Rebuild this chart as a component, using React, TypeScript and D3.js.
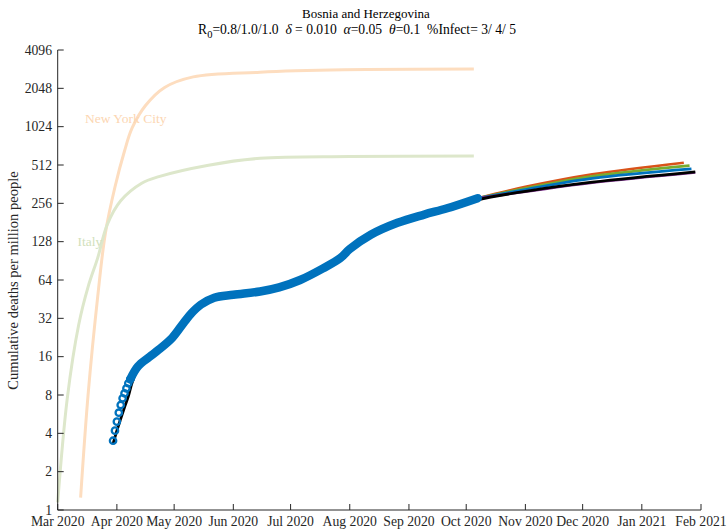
import React from 'react';
import * as d3 from 'd3';

// ---------- data ----------
const xTickDates = ['2020-03-01','2020-04-01','2020-05-01','2020-06-01','2020-07-01','2020-08-01','2020-09-01','2020-10-01','2020-11-01','2020-12-01','2021-01-01','2021-02-01'];
const yTickValues = [1, 2, 4, 8, 16, 32, 64, 128, 256, 512, 1024, 2048, 4096];

const nycDates = ['2020-03-13','2020-03-17','2020-03-22','2020-03-26','2020-03-31','2020-04-05','2020-04-09','2020-04-16','2020-04-26','2020-05-11','2020-06-15','2020-07-29','2020-10-05'];
const nycValues = [1.25, 8.3, 48, 150, 344, 660, 1000, 1500, 2080, 2520, 2740, 2860, 2900];

const italyDates = ['2020-03-01','2020-03-06','2020-03-12','2020-03-17','2020-03-22','2020-03-27','2020-04-03','2020-04-14','2020-04-23','2020-05-19','2020-06-15','2020-08-01','2020-10-05'];
const italyValues = [1.15, 7.5, 28.5, 57, 96, 175, 268, 368, 415, 510, 578, 597, 603];

// early daily observations (distinct markers)
const bosniaEarlyDates = ['2020-03-30','2020-03-31','2020-04-01','2020-04-02','2020-04-03','2020-04-04','2020-04-05','2020-04-06','2020-04-07','2020-04-08'];
const bosniaEarlyValues = [3.5, 4.2, 4.94, 5.81, 6.68, 7.54, 8.25, 9.03, 9.89, 10.63];

// later observations (markers overlap into a band)
const bosniaDates = ['2020-04-08','2020-04-12','2020-04-18','2020-04-23','2020-04-30','2020-05-06','2020-05-10','2020-05-15','2020-05-22','2020-06-01','2020-06-15','2020-06-25','2020-07-06','2020-07-18','2020-07-27','2020-08-01','2020-08-12','2020-08-26','2020-09-09','2020-09-21','2020-10-07'];
const bosniaValues = [10.63, 13.4, 15.9, 18.2, 22.5, 29.5, 35, 41, 46.5, 49, 52, 56, 64, 79, 95, 112, 145, 180, 209, 234, 281];

// model fit (early part, visible beside the first markers)
const fitEarlyDates = ['2020-03-30','2020-04-01','2020-04-03','2020-04-05','2020-04-07','2020-04-09','2020-04-12'];
const fitEarlyValues = [3.3, 4.2, 5.2, 6.4, 7.8, 10.0, 12.8];

// projections
const projOrangeDates = ['2020-10-07','2020-11-01','2020-12-06','2021-01-23'];
const projOrangeValues = [281, 345, 433, 534];
const projGreenDates = ['2020-10-07','2020-11-01','2020-12-06','2021-01-26'];
const projGreenValues = [281, 336, 417, 506];
const projBlueDates = ['2020-10-07','2020-11-01','2020-12-06','2021-01-27'];
const projBlueValues = [281, 329, 402, 477];
const projPurpleDates = ['2020-10-07','2020-11-01','2020-12-06','2021-01-29'];
const projPurpleValues = [281, 316, 371, 447];
const projBlackDates = ['2020-10-07','2020-11-01','2020-12-06','2021-01-29'];
const projBlackValues = [281, 318, 375, 452];

// ---------- helpers ----------
const parse = d3.utcParse('%Y-%m-%d');
const zip = (ds: string[], vs: number[]) => ds.map((d, i) => ({ date: parse(d) as Date, value: vs[i] }));

const FONT = '"Liberation Serif", "Times New Roman", serif';

export default function App() {
  const x = d3.scaleUtc().domain([parse('2020-03-01') as Date, parse('2021-02-01') as Date]).range([57.7, 701]);
  const y = d3.scaleLog().base(2).domain([1, 4096]).range([510, 50]);

  const line = d3.line<{ date: Date; value: number }>()
    .x(d => x(d.date))
    .y(d => y(d.value))
    .curve(d3.curveCatmullRom.alpha(0.5));

  const nyc = zip(nycDates, nycValues);
  const italy = zip(italyDates, italyValues);
  const early = zip(bosniaEarlyDates, bosniaEarlyValues);
  const band = zip(bosniaDates, bosniaValues);
  const fitEarly = zip(fitEarlyDates, fitEarlyValues);
  const lastFit = fitEarly[fitEarly.length - 1].date.getTime();
  const blackProj = zip(projBlackDates, projBlackValues);
  const fit = [
    ...fitEarly,
    ...band.filter(p => p.date.getTime() > lastFit).map(p => ({ date: p.date, value: p.value * 0.97 })),
    ...blackProj.slice(1),
  ];

  const projections = [
    { data: zip(projOrangeDates, projOrangeValues), color: '#D95319' },
    { data: zip(projGreenDates, projGreenValues), color: '#77AC30' },
    { data: zip(projBlueDates, projBlueValues), color: '#0072BD' },
    { data: zip(projPurpleDates, projPurpleValues), color: '#7E2F8E' },
  ];

  const axisColor = '#262626';
  const xTicks = xTickDates.map(d => parse(d) as Date);
  const fmt = d3.utcFormat('%b %Y');

  return (
    <svg width={727} height={529} style={{ position: 'absolute', left: 0, top: 0, background: '#fff' }} fontFamily={FONT}>
      {/* title */}
      <text x={366} y={18} textAnchor="middle" fontSize={13} fill="#000">Bosnia and Herzegovina</text>
      <text x={357} y={33.5} textAnchor="middle" fontSize={13.6} fill="#000" style={{ whiteSpace: 'pre' }}>
        <tspan>R</tspan>
        <tspan dy={4} fontSize={10.5}>0</tspan>
        <tspan dy={-4}>=0.8/1.0/1.0  </tspan>
        <tspan fontStyle="italic">δ</tspan>
        <tspan> = 0.010  </tspan>
        <tspan fontStyle="italic">α</tspan>
        <tspan>=0.05  </tspan>
        <tspan fontStyle="italic">θ</tspan>
        <tspan>=0.1  %Infect= 3/ 4/ 5</tspan>
      </text>

      {/* reference curves */}
      <path d={line(nyc) || ''} fill="none" stroke="#FDDDBF" strokeWidth={3} />
      <path d={line(italy) || ''} fill="none" stroke="#DDE7CB" strokeWidth={3} />
      <text x={85} y={123} fontSize={13.5} fill="#FCD6B2">New York City</text>
      <text x={77.5} y={246} fontSize={13.5} fill="#D2DFBC">Italy</text>

      {/* projections */}
      {projections.map((p, i) => (
        <path key={i} d={line(p.data) || ''} fill="none" stroke={p.color} strokeWidth={2.6} />
      ))}
      {/* model fit */}
      <path d={line(fit) || ''} fill="none" stroke="#000" strokeWidth={2.8} />

      {/* observed data */}
      <path d={line(band) || ''} fill="none" stroke="#0072BD" strokeWidth={8.5} strokeLinecap="round" strokeLinejoin="round" />
      {early.map((p, i) => (
        <circle key={i} cx={x(p.date)} cy={y(p.value)} r={3.2} fill="none" stroke="#0072BD" strokeWidth={2.3} />
      ))}

      {/* y axis */}
      <line x1={57.7} x2={57.7} y1={y(4096)} y2={y(1)} stroke={axisColor} strokeWidth={1} />
      {yTickValues.map(v => (
        <g key={v}>
          <line x1={57.7} x2={63.7} y1={y(v)} y2={y(v)} stroke={axisColor} strokeWidth={1} />
          <text x={52} y={y(v) + 4.7} textAnchor="end" fontSize={13.7} fill={axisColor}>{v}</text>
        </g>
      ))}
      <text transform={`translate(18, 280.5) rotate(-90)`} textAnchor="middle" fontSize={14.5} fill={axisColor}>Cumulative deaths per million people</text>

      {/* x axis */}
      <line x1={57.7} x2={701} y1={510} y2={510} stroke={axisColor} strokeWidth={1} />
      {xTicks.map((t, i) => (
        <g key={i}>
          <line x1={x(t)} x2={x(t)} y1={510} y2={504} stroke={axisColor} strokeWidth={1} />
          <text x={x(t)} y={525.5} textAnchor="middle" fontSize={13.7} fill={axisColor}>{fmt(t)}</text>
        </g>
      ))}
    </svg>
  );
}
